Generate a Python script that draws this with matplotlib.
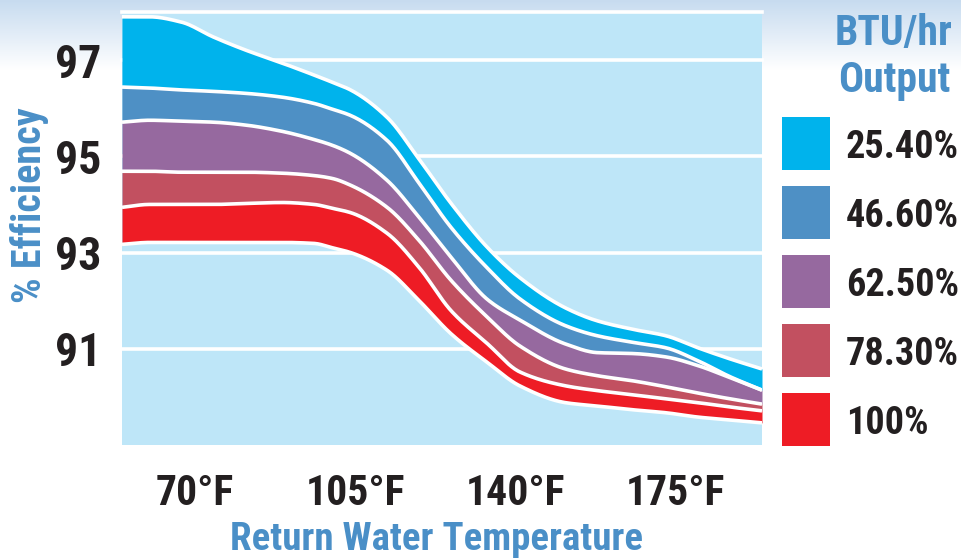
import numpy as np
import matplotlib
matplotlib.use('Agg')
import matplotlib.pyplot as plt
from matplotlib import font_manager as fm
from matplotlib.patches import Rectangle

# ---------------- data ----------------
temps = [54, 60, 67, 74, 81, 89, 96, 100, 104, 112, 119, 126, 134, 141,
         151, 158, 166, 173, 180, 187, 194]
# band boundaries (top of 25.40% band down to bottom of 100% band)
edge0 = [97.90, 97.90, 97.79, 97.48, 97.21, 96.94, 96.69, 96.54, 96.38, 95.81, 94.94,
         94.02, 93.10, 92.48, 91.85, 91.58, 91.40, 91.27, 91.02, 90.79, 90.58]
edge1 = [96.44, 96.42, 96.38, 96.35, 96.31, 96.23, 96.10, 95.98, 95.85, 95.33, 94.44,
         93.52, 92.67, 92.04, 91.48, 91.27, 91.13, 91.02, 90.75, 90.42, 90.14]
edge2 = [95.71, 95.75, 95.73, 95.71, 95.65, 95.52, 95.35, 95.23, 95.06, 94.50, 93.73,
         92.90, 92.02, 91.60, 91.10, 90.92, 90.90, 90.83, 90.65, 90.40, 90.14]
edge3 = [94.69, 94.69, 94.67, 94.67, 94.67, 94.65, 94.60, 94.54, 94.40, 93.94, 93.25,
         92.42, 91.65, 91.06, 90.58, 90.44, 90.33, 90.21, 90.08, 89.96, 89.85]
edge4 = [93.94, 94.00, 94.00, 94.00, 94.02, 94.04, 94.00, 93.92, 93.83, 93.40, 92.69,
         91.79, 91.10, 90.52, 90.23, 90.13, 90.04, 89.96, 89.88, 89.79, 89.71]
edge5 = [93.17, 93.21, 93.21, 93.21, 93.21, 93.21, 93.19, 93.10, 93.00, 92.63, 92.00,
         91.31, 90.71, 90.23, 89.88, 89.81, 89.73, 89.67, 89.58, 89.52, 89.46]

series_labels = ['25.40%', '46.60%', '62.50%', '78.30%', '100%']
series_colors = ['#00b3ec', '#4e90c5', '#96699f', '#c25060', '#ee1c25']
xtick_values = [70, 105, 140, 175]
xtick_labels = ['70°F', '105°F', '140°F', '175°F']
ytick_values = [91, 93, 95, 97]
ytick_labels = ['91', '93', '95', '97']
grid_values = [91, 93, 95, 97, 98]

# ---------------- fonts ----------------
def pick_font():
    prefs = ['Liberation Sans Narrow', 'Roboto Condensed', 'Open Sans Condensed',
             'Arimo Narrow', 'Asap Condensed', 'Barlow Semi Condensed', 'Barlow Condensed']
    for name in prefs:
        for f in fm.fontManager.ttflist:
            if (f.name == name and f.weight == 700 and f.style == 'normal'
                    and '[' not in f.fname):
                return fm.FontProperties(fname=f.fname), name
    return fm.FontProperties(family='DejaVu Sans', weight='bold', stretch='condensed'), 'DejaVu'

FP, FONTNAME = pick_font()

def fp(size):
    p = FP.copy()
    p.set_size(size)
    return p

BLUE = '#4a8fc7'
DARK = '#231f20'
W, H = 961, 558


def pchip(x, y, n=400):
    x = np.asarray(x, float)
    y = np.asarray(y, float)
    h = np.diff(x)
    d = np.diff(y) / h
    m = np.zeros_like(y)
    for k in range(1, len(x) - 1):
        if d[k - 1] * d[k] > 0:
            w1 = 2 * h[k] + h[k - 1]
            w2 = h[k] + 2 * h[k - 1]
            m[k] = (w1 + w2) / (w1 / d[k - 1] + w2 / d[k])
    m[0] = d[0]
    m[-1] = d[-1]
    xs = np.linspace(x[0], x[-1], n)
    idx = np.clip(np.searchsorted(x, xs) - 1, 0, len(x) - 2)
    t = (xs - x[idx]) / h[idx]
    h00 = 2 * t ** 3 - 3 * t ** 2 + 1
    h10 = t ** 3 - 2 * t ** 2 + t
    h01 = -2 * t ** 3 + 3 * t ** 2
    h11 = t ** 3 - t ** 2
    ys = h00 * y[idx] + h10 * h[idx] * m[idx] + h01 * y[idx + 1] + h11 * h[idx] * m[idx + 1]
    return xs, ys


fig = plt.figure(figsize=(W / 100, H / 100), dpi=100)
fig.patch.set_facecolor('white')

# top gradient
gax = fig.add_axes([0, 1 - 70 / H, 1, 70 / H], zorder=0)
tt = np.linspace(0, 1, 200).reshape(-1, 1)
top = np.array([0.78, 0.86, 0.94])
grad = top[None, None, :] * (1 - tt[..., None]) + np.ones(3)[None, None, :] * tt[..., None]
gax.imshow(grad, aspect='auto', extent=[0, 1, 0, 1])
gax.axis('off')

# main axes
ax = fig.add_axes([122 / W, 113 / H, 640 / W, 433 / H], zorder=1)
ax.set_facecolor('#bee6f8')
ax.set_xlim(54, 194)
ax.set_ylim(89, 98)

for g in grid_values:
    ax.axhline(g, color='white', lw=2.6, zorder=1, clip_on=False)

edges = [edge0, edge1, edge2, edge3, edge4, edge5]
smooth = [pchip(temps, e) for e in edges]
for i in range(5):
    xs, top_y = smooth[i]
    _, bot_y = smooth[i + 1]
    ax.fill_between(xs, bot_y, top_y, color=series_colors[i], lw=0, zorder=2)
for xs, ys in smooth:
    ax.plot(xs, ys, color='white', lw=2.6, zorder=3, solid_joinstyle='round',
            solid_capstyle='butt')

for s in ax.spines.values():
    s.set_visible(False)
ax.set_xticks(xtick_values)
ax.set_xticklabels(xtick_labels, color=DARK, fontproperties=fp(30))
ax.set_yticks(ytick_values)
ax.set_yticklabels(ytick_labels, color=DARK, fontproperties=fp(33))
ax.tick_params(axis='both', length=0)
ax.tick_params(axis='x', pad=20)
ax.tick_params(axis='y', pad=15)

# axis titles
fig.text(30 / W, 1 - 205 / H, '% Efficiency', rotation=90, ha='center', va='center',
         color=BLUE, fontproperties=fp(29))
fig.text(437 / W, 1 - 550 / H, 'Return Water Temperature', ha='center', va='baseline',
         color=BLUE, fontproperties=fp(28))

# legend
fig.text(894 / W, 1 - 45 / H, 'BTU/hr', ha='center', va='baseline', color=BLUE,
         fontproperties=fp(30))
fig.text(894 / W, 1 - 92 / H, 'Output', ha='center', va='baseline', color=BLUE,
         fontproperties=fp(30))
for i, (lab, col) in enumerate(zip(series_labels, series_colors)):
    ytop = 117 + 69 * i
    fig.add_artist(Rectangle((782 / W, 1 - (ytop + 53) / H), 48 / W, 53 / H,
                             transform=fig.transFigure, facecolor=col, edgecolor='none'))
    fig.text(846 / W, 1 - (ytop + 41) / H, lab, ha='left', va='baseline', color=DARK,
             fontproperties=fp(27.5))

fig.savefig('out.png', dpi=100, facecolor='white')
